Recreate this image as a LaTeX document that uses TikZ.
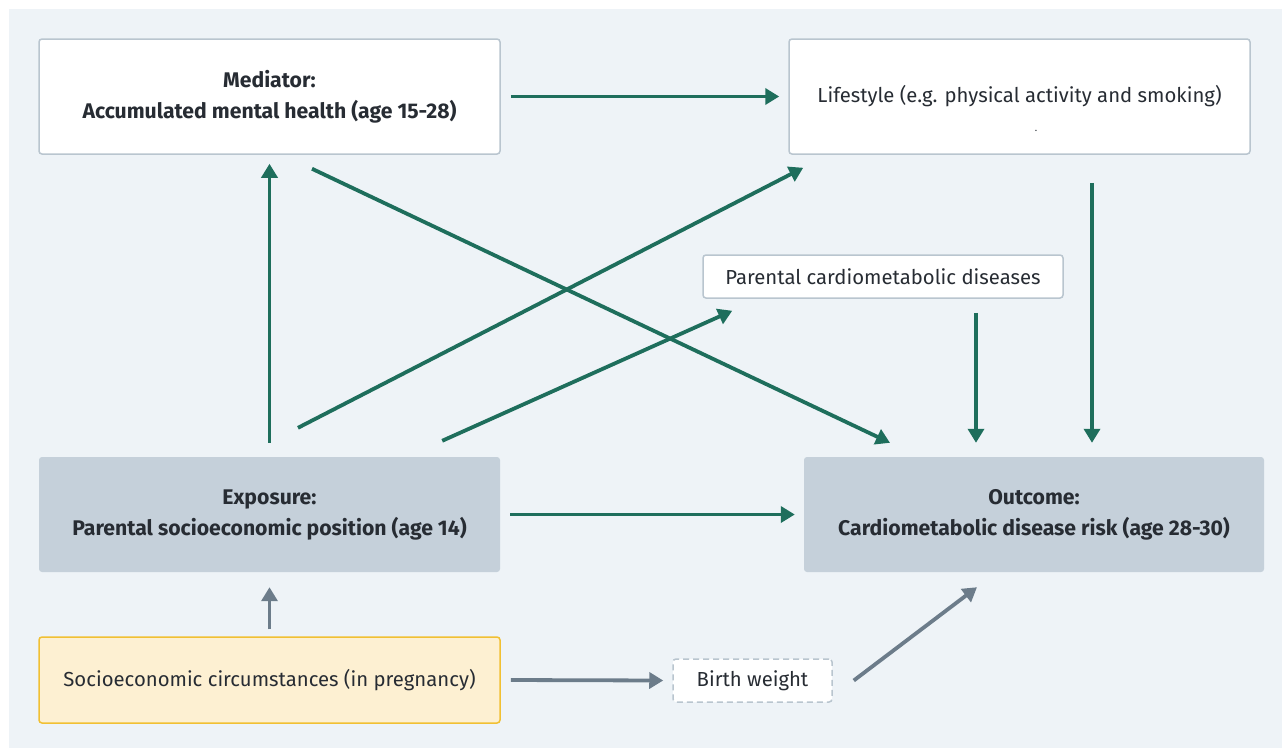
\documentclass[tikz,border=0pt]{standalone}
\usepackage{fontspec}
\setmainfont{Fira Sans}
\usepackage{tikz}
\usetikzlibrary{arrows.meta}

\definecolor{bg}{HTML}{EEF3F7}
\definecolor{edge}{HTML}{B9C5CF}
\definecolor{expfill}{HTML}{C5D0DA}
\definecolor{sesfill}{HTML}{FDF0D2}
\definecolor{sesedge}{HTML}{F1C033}
\definecolor{teal}{HTML}{1E6E5C}
\definecolor{slate}{HTML}{6C7C8A}
\definecolor{ink}{HTML}{272C33}

\begin{document}
\begin{tikzpicture}[x=1pt, y=-1pt, font=\fontsize{20.3}{31}\selectfont, text=ink,
	box/.style = {rounded corners=3pt, align=center, inner sep=0pt},
	plain/.style = {box, draw=edge, line width=1.5pt, fill=white},
	shaded/.style = {box, fill=expfill, font=\fontsize{21.2}{31}\selectfont\bfseries},
	ses/.style = {box, draw=sesedge, line width=1.5pt, fill=sesfill},
	dashbox/.style = {box, draw=edge, dashed, dash pattern=on 6pt off 4pt, line width=1.5pt, fill=white},
	link/.style = {draw=teal, line width=3.8pt, -{Triangle[length=14pt, width=16pt]}},
	grey/.style = {link, draw=slate}]
				\useasboundingbox (0,0) rectangle (1282,748);
				\fill[bg] (9,9) rectangle (1282,748);
				\node[plain, minimum width=461pt, minimum height=115pt, font=\fontsize{21.2}{31}\selectfont\bfseries] (med) at (269.5,96.5) {Mediator:\\Accumulated mental health (age 15-28)};
				\node[plain, minimum width=461pt, minimum height=115pt] (life) at (1019.5,96.5) {Lifestyle (e.g. physical activity and smoking)};
				\node[font=\fontsize{10}{10}\selectfont, inner sep=0pt] (lifedot) at (1036,131) {.};
				\node[plain, minimum width=360pt, minimum height=43pt] (par) at (883,276.5) {Parental cardiometabolic diseases};
				\node[shaded, minimum width=461pt, minimum height=115pt] (exp) at (269.5,514.5) {Exposure:\\Parental socioeconomic position (age 14)};
				\node[shaded, minimum width=460pt, minimum height=115pt] (out) at (1034,514.5) {Outcome:\\Cardiometabolic disease risk (age 28-30)};
				\node[ses, minimum width=461pt, minimum height=86pt] (ses) at (269.5,680) {Socioeconomic circumstances (in pregnancy)};
				\node[dashbox, minimum width=159pt, minimum height=43pt] (bw) at (752.5,680.5) {Birth weight};
				
				\draw[link] ([xshift=10pt]med.east) -- ([xshift=-9pt]life.west);
				\draw[link] ([xshift=42.5pt,yshift=-14pt]med.south) -- ([xshift=-144pt,yshift=14pt]out.north);
				\draw[link] ([yshift=14pt]exp.north) -- ([yshift=-9pt]med.south);
				\draw[link] ([xshift=28.5pt,yshift=29pt]exp.north) -- ([xshift=15pt,yshift=-13pt]life.south west);
				\draw[link] ([xshift=-58pt,yshift=16pt]exp.north east) -- ([xshift=30pt,yshift=-12pt]par.south west);
				\draw[link] ([xshift=10pt]exp.east) -- ([xshift=-9pt]out.west);
				\draw[link] ([xshift=93pt,yshift=-14pt]par.south) -- ([xshift=-58pt,yshift=14pt]out.north);
				\draw[link] ([xshift=72.5pt,yshift=-28pt]life.south) -- ([xshift=58pt,yshift=14pt]out.north);
				\draw[grey] ([yshift=7pt]ses.north) -- ([yshift=-15pt]exp.south);
				\draw[grey] ([xshift=10pt]ses.east) -- ([xshift=-9pt]bw.west);
				\draw[grey] ([xshift=21pt]bw.east) -- ([xshift=-57pt,yshift=-15pt]out.south);
				
				\end{tikzpicture}
\end{document}
